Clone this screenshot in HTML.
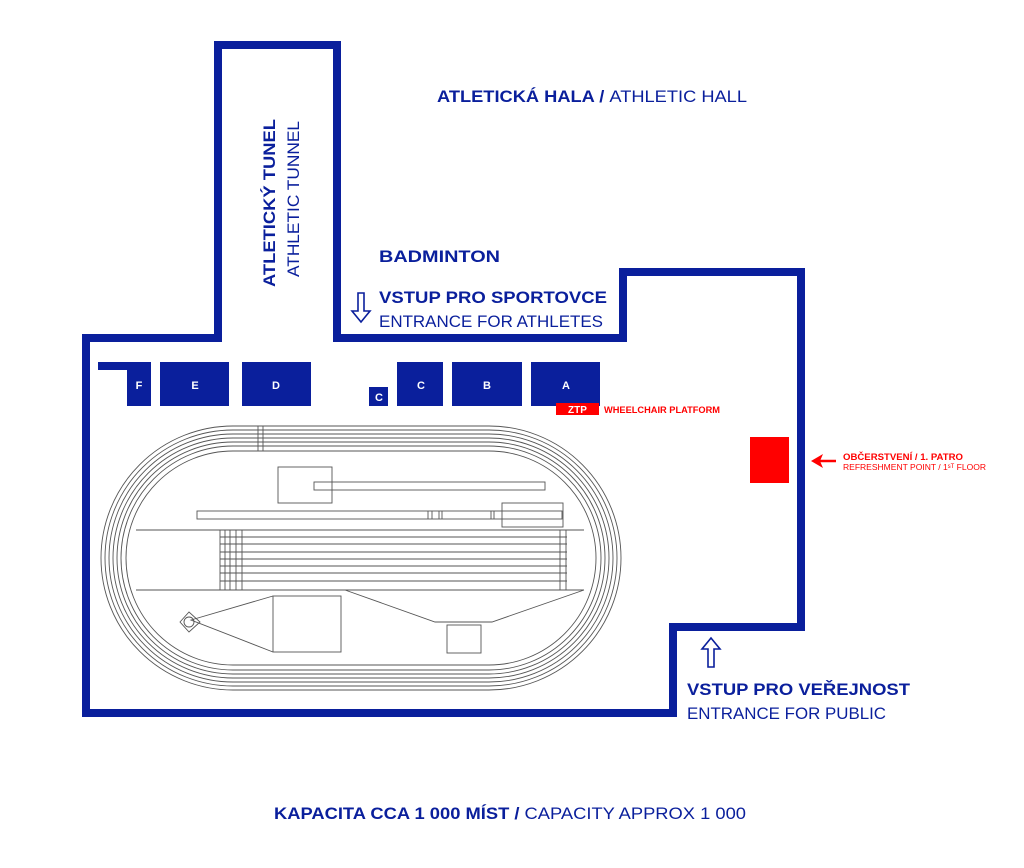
<!DOCTYPE html>
<html><head><meta charset="utf-8"><style>
html,body{margin:0;padding:0;background:#fff;}
svg{display:block;}
text{font-family:"Liberation Sans",sans-serif;}
</style></head><body>
<svg width="1024" height="868" viewBox="0 0 1024 868" xmlns="http://www.w3.org/2000/svg">
<rect width="1024" height="868" fill="#fff"/>
<path d="M86 338 H218 V45 H337 V338 H623 V272 H801 V627 H673 V713 H86 Z" fill="none" stroke="#0a1f9c" stroke-width="8" stroke-linejoin="miter"/>
<g fill="#0a1f9c">
<path d="M98 362 H151 V406 H127 V370 H98 Z"/>
<rect x="160" y="362" width="69" height="44"/>
<rect x="242" y="362" width="69" height="44"/>
<rect x="369" y="387" width="19" height="19"/>
<rect x="397" y="362" width="46" height="44"/>
<rect x="452" y="362" width="70" height="44"/>
<rect x="531" y="362" width="69" height="44"/>
</g>
<g fill="#fff" font-weight="bold" font-size="11" text-anchor="middle">
<text x="139" y="389">F</text><text x="195" y="389">E</text><text x="276" y="389">D</text>
<text x="379" y="401">C</text><text x="421" y="389">C</text><text x="487" y="389">B</text><text x="566" y="389">A</text>
</g>
<rect x="556" y="403" width="43" height="12" fill="#f00"/>
<text x="577.5" y="413" fill="#fff" font-weight="bold" font-size="10" text-anchor="middle">ZTP</text>
<text x="604" y="413" fill="#f00" font-weight="bold" font-size="9.5" textLength="116" lengthAdjust="spacingAndGlyphs">WHEELCHAIR PLATFORM</text>
<rect x="750" y="437" width="39" height="46" fill="#f00"/>
<path d="M836 461 H820" stroke="#f00" stroke-width="2.5" fill="none"/>
<path d="M811 461 L823 454 L820 461 L823 468 Z" fill="#f00"/>
<text x="843" y="460" fill="#f00" font-weight="bold" font-size="9" textLength="120" lengthAdjust="spacingAndGlyphs">OBČERSTVENÍ / 1. PATRO</text>
<text x="843" y="470" fill="#f00" font-size="8.5" textLength="143" lengthAdjust="spacingAndGlyphs">REFRESHMENT POINT / 1ˢᵀ FLOOR</text>
<g fill="none" stroke="#555" stroke-width="0.9">
<rect x="101" y="426" width="520" height="264" rx="132" ry="132"/>
<rect x="105" y="430" width="512" height="256" rx="128" ry="128"/>
<rect x="109" y="434" width="504" height="248" rx="124" ry="124"/>
<rect x="113" y="438" width="496" height="240" rx="120" ry="120"/>
<rect x="117" y="442" width="488" height="232" rx="116" ry="116"/>
<rect x="121" y="446" width="480" height="224" rx="112" ry="112"/>
<rect x="126" y="451" width="470" height="214" rx="107" ry="107"/>
<line x1="258" y1="426" x2="258" y2="451"/><line x1="263" y1="426" x2="263" y2="451"/>
<rect x="278" y="467" width="54" height="36"/>
<rect x="314" y="482" width="231" height="8"/>
<rect x="197" y="511" width="365" height="8"/>
<line x1="428" y1="511" x2="428" y2="519"/><line x1="432" y1="511" x2="432" y2="519"/>
<line x1="439" y1="511" x2="439" y2="519"/><line x1="442" y1="511" x2="442" y2="519"/>
<line x1="491" y1="511" x2="491" y2="519"/><line x1="494" y1="511" x2="494" y2="519"/>
<rect x="502" y="503" width="61" height="24"/>
<line x1="136" y1="530" x2="584" y2="530"/>
<line x1="136" y1="590" x2="584" y2="590"/>
<line x1="220" y1="537" x2="567" y2="537"/>
<line x1="220" y1="544" x2="567" y2="544"/>
<line x1="220" y1="552" x2="567" y2="552"/>
<line x1="220" y1="559" x2="567" y2="559"/>
<line x1="220" y1="566" x2="567" y2="566"/>
<line x1="220" y1="573" x2="567" y2="573"/>
<line x1="220" y1="581" x2="567" y2="581"/>
<line x1="220" y1="530" x2="220" y2="590"/><line x1="225" y1="530" x2="225" y2="590"/>
<line x1="230" y1="530" x2="230" y2="590"/><line x1="236" y1="530" x2="236" y2="590"/>
<line x1="242" y1="530" x2="242" y2="590"/>
<line x1="560" y1="530" x2="560" y2="590"/><line x1="566" y1="530" x2="566" y2="590"/>
<rect x="273" y="596" width="68" height="56"/>
<path d="M273 596 L191 620 L273 652"/>
<path d="M180 622 L189 612 L200 622 L189 632 Z"/>
<circle cx="189" cy="622" r="5"/>
<path d="M345 590 L435 622 L492 622 L584 590"/>
<rect x="447" y="625" width="34" height="28"/>
</g>
<text x="437" y="102" fill="#0a1f9c" font-size="17" textLength="310" lengthAdjust="spacingAndGlyphs"><tspan font-weight="bold">ATLETICKÁ HALA / </tspan>ATHLETIC HALL</text>
<text transform="translate(275 287) rotate(-90)" fill="#0a1f9c" font-size="17" font-weight="bold" textLength="168" lengthAdjust="spacingAndGlyphs">ATLETICKÝ TUNEL</text>
<text transform="translate(299 277) rotate(-90)" fill="#0a1f9c" font-size="17" textLength="156" lengthAdjust="spacingAndGlyphs">ATHLETIC TUNNEL</text>
<text x="379" y="262" fill="#0a1f9c" font-size="17" font-weight="bold" textLength="121" lengthAdjust="spacingAndGlyphs">BADMINTON</text>
<text x="379" y="303" fill="#0a1f9c" font-size="17" font-weight="bold" textLength="228" lengthAdjust="spacingAndGlyphs">VSTUP PRO SPORTOVCE</text>
<text x="379" y="327" fill="#0a1f9c" font-size="17" textLength="224" lengthAdjust="spacingAndGlyphs">ENTRANCE FOR ATHLETES</text>
<path d="M358 293 V311 H352 L361 322 L370 311 H364 V293 Z" fill="none" stroke="#0a1f9c" stroke-width="1.6"/>
<path d="M708 667 V649 H702 L711 638 L720 649 H714 V667 Z" fill="none" stroke="#0a1f9c" stroke-width="1.6"/>
<text x="687" y="695" fill="#0a1f9c" font-size="17" font-weight="bold" textLength="223" lengthAdjust="spacingAndGlyphs">VSTUP PRO VEŘEJNOST</text>
<text x="687" y="719" fill="#0a1f9c" font-size="17" textLength="199" lengthAdjust="spacingAndGlyphs">ENTRANCE FOR PUBLIC</text>
<text x="274" y="819" fill="#0a1f9c" font-size="17" textLength="472" lengthAdjust="spacingAndGlyphs"><tspan font-weight="bold">KAPACITA CCA 1 000 MÍST / </tspan>CAPACITY APPROX 1 000</text>
</svg>
</body></html>
